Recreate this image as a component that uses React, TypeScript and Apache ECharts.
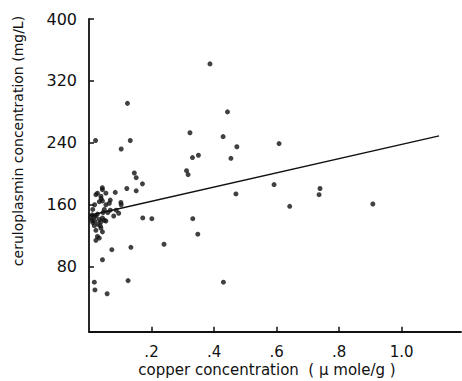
import React, { useEffect, useRef } from "react";
import * as echarts from "echarts";

const xTicks = [0.2, 0.4, 0.6, 0.8, 1.0];
const xTickLabels = [".2", ".4", ".6", ".8", "1.0"];
const yTicks = [80, 160, 240, 320, 400];

const points: [number, number][] = [
  [0.387, 342], [0.443, 280], [0.323, 253], [0.429, 248], [0.473, 235], [0.608, 239],
  [0.331, 221], [0.35, 224], [0.454, 220], [0.312, 204], [0.317, 199], [0.171, 187],
  [0.592, 186], [0.739, 181], [0.736, 173], [0.47, 174], [0.642, 158], [0.172, 143],
  [0.201, 142], [0.332, 142], [0.348, 122], [0.24, 109], [0.43, 60], [0.908, 161],
  [0.021, 243], [0.123, 291], [0.132, 243], [0.103, 232], [0.145, 201], [0.151, 195],
  [0.121, 181], [0.151, 178], [0.084, 176], [0.0425, 182],
  [0.043, 89], [0.017, 60], [0.019, 50], [0.058, 45], [0.125, 62], [0.073, 102], [0.134, 105],
  [0.022, 127], [0.038, 130], [0.043, 125], [0.027, 119], [0.022, 114], [0.033, 117],
  [0.079, 145.5], [0.102, 163], [0.103, 160], [0.068, 166], [0.087, 153], [0.095, 149], [0.068, 153],
  [0.027, 175], [0.043, 179.5], [0.054, 175], [0.038, 171], [0.022, 173], [0.039, 168],
  [0.033, 164], [0.043, 165], [0.054, 160], [0.065, 162], [0.012, 154], [0.049, 154],
  [0.018, 160], [0.006, 143], [0.022, 145], [0.033, 141], [0.018, 139], [0.043, 143],
  [0.054, 139], [0.017, 145], [0.049, 140], [0.012, 137], [0.028, 135], [0.017, 133],
  [0.038, 138], [0.027, 148], [0.06, 150], [0.045, 150], [0.01, 147], [0.036, 133], [0.01, 140],
];

const regression: [number, number][] = [
  [0, 146],
  [1.12, 249],
];

const FONT = "DejaVu Sans";
const INK = "#111";

export default function App() {
  const ref = useRef<HTMLDivElement>(null);
  useEffect(() => {
    if (!ref.current) return;
    const chart = echarts.init(ref.current, null, { renderer: "svg" });
    chart.setOption({
      animation: false,
      backgroundColor: "#fff",
      grid: { left: 89, top: 19, width: 372, height: 312.7, containLabel: false },
      xAxis: {
        type: "value",
        min: 0,
        max: 1.19,
        splitLine: { show: false },
        axisLine: { show: true, onZero: false, lineStyle: { color: INK, width: 1.8 } },
        axisTick: { show: true, inside: true, length: 5, customValues: xTicks, lineStyle: { color: INK, width: 1.5 } },
        axisLabel: {
          customValues: xTicks,
          color: INK,
          fontFamily: FONT,
          fontSize: 15,
          margin: 13,
          formatter: (v: number) => {
            const i = xTicks.findIndex((t) => Math.abs(t - v) < 1e-6);
            return i >= 0 ? xTickLabels[i] : "";
          },
        },
      },
      yAxis: {
        type: "value",
        min: -4,
        max: 400,
        splitLine: { show: false },
        axisLine: { show: true, onZero: false, lineStyle: { color: INK, width: 1.8 } },
        axisTick: { show: true, inside: true, length: 5, customValues: yTicks, lineStyle: { color: INK, width: 1.5 } },
        axisLabel: {
          customValues: yTicks,
          color: INK,
          fontFamily: FONT,
          fontSize: 16,
          margin: 12,
        },
      },
      series: [
        {
          type: "scatter",
          data: points,
          symbol: "circle",
          symbolSize: 5,
          itemStyle: { color: INK },
          silent: true,
        },
        {
          type: "line",
          data: regression,
          showSymbol: false,
          symbol: "none",
          lineStyle: { color: INK, width: 1.5 },
          silent: true,
        },
      ],
      graphic: [
        {
          type: "text",
          x: 267,
          y: 370,
          style: {
            text: "copper concentration  ( \u03bc mole/g )",
            fill: INK,
            font: `15px '${FONT}'`,
            textAlign: "center",
            textVerticalAlign: "middle",
          },
        },
        {
          type: "text",
          x: 18,
          y: 141,
          rotation: Math.PI / 2,
          style: {
            text: "ceruloplasmin concentration (mg/L)",
            fill: INK,
            font: `14px '${FONT}'`,
            textAlign: "center",
            textVerticalAlign: "middle",
          },
        },
      ],
    });
    return () => chart.dispose();
  }, []);
  return (
    <div
      ref={ref}
      style={{ position: "fixed", left: 0, top: 0, width: 462, height: 381, background: "#fff" }}
    />
  );
}
